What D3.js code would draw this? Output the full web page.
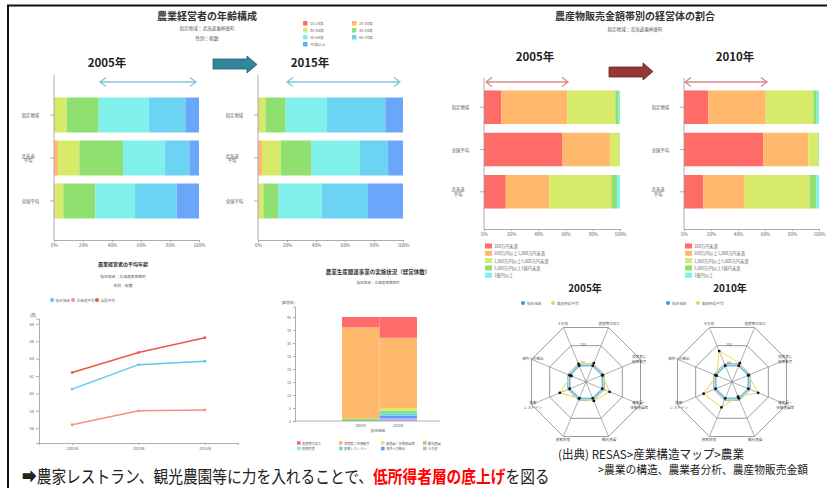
<!DOCTYPE html>
<html><head><meta charset="utf-8">
<script src="https://cdn.jsdelivr.net/npm/d3@7"></script>
<style>body{margin:0;background:#fff}svg{display:block}text{font-family:"Noto Sans CJK JP","Noto Sans","DejaVu Sans",sans-serif}</style>
</head><body><svg id="c" width="827" height="488"></svg>
<script>
// ---------------- DATA ----------------
const ageGroups = ["15-24歳","25-34歳","35-44歳","45-54歳","55-64歳","65-74歳","75歳以上"];
const ageRegions = ["指定地域","北海道平均","全国平均"];
const age2005 = [[0,0,8.7,22.1,34.5,25.3,9.4],[0.3,2.5,14.7,30.1,28.7,17.0,6.7],[0.2,0.6,5.6,22.1,27.4,28.7,15.4]];
const age2015 = [[0,0.5,4.6,14.0,28.3,40.4,12.2],[0.2,3.0,12.4,21.4,33.3,19.4,10.3],[0.1,0.5,3.1,10.3,29.9,32.0,24.1]];
const ageColors = ["#ff6b6b","#ffb86c","#d8ea6a","#8fe070","#80f0ea","#6cd3f2","#6aa6fa"];

const salesBands = ["100万円未満","100万円以上1,000万円未満","1,000万円以上5,000万円未満","5,000万円以上1億円未満","1億円以上"];
const salesRegions = ["指定地域","全国平均","北海道平均"];
const sales2005 = [[12.8,48.6,35.2,2.4,1.0],[57.7,34.9,7.2,0.1,0.1],[16.0,31.9,45.7,4.4,2.0]];
const sales2010 = [[18.0,42.5,35.3,2.5,1.7],[58.8,33.3,7.2,0.5,0.2],[14.3,30.6,48.2,4.9,2.0]];
const salesColors = ["#ff6b66","#ffb86c","#d8ea6a","#8fe070","#80f0ea"];

const pctTicks = [0,20,40,60,80,100];

const avgYears = ["2005年","2010年","2015年"];
const avgSeries = ["指定地域","北海道平均","全国平均"];
const avgLocal = [60.5,63.3,63.7];
const avgHokkaido = [56.4,58.0,58.1];
const avgNation = [62.4,64.7,66.4];
const avgColors = ["#5cc6f2","#ff8a84","#ee5548"];
const avgTicks = [56,58,60,62,64,66,68];

const bizTypes = ["農産物の加工","消費者に直接販売","貸農園・体験農園等","観光農園","農家民宿","農家レストラン","海外への輸出","その他"];
const bizYears = ["2005年","2010年"];
const biz2005 = [4,35,0,1,0,0,0,0];
const biz2010 = [8,27,1,1,0,1,1,1];
const bizColors = ["#ff6b6b","#ffb86c","#d8ea6a","#8fe070","#80f0ea","#6cd3f2","#5b9cf5","#c8aaf2"];
const bizTicks = [0,5,10,15,20,25,30,35,40];

const radarAxes = bizTypes;
const radarLabels = [["農産物の加工"],["消費者に","直接販売"],["貸農園・","体験農園等"],["観光農園"],["農家民宿"],["農家","レストラン"],["海外への輸出"],["その他"]];
const radarSeries = ["指定地域","都道府県平均"];
const radarLocal2005 = [45,45,45,45,45,45,45,45];
const radarPref2005 = [52,45,65,52,45,72,40,50];
const radarLocal2010 = [45,45,45,45,45,45,45,45];
const radarPref2010 = [52,45,72,40,70,78,42,85];
const radarTicks = [50,100,150];
const radarColors = ["#6cc3ea","#eedd66"];

const messageParts = ["➡農家レストラン、観光農園等に力を入れることで、","低所得者層の底上げ","を図る"];

// ---------------- DRAW ----------------
const svg = d3.select("#c");
svg.append("rect").attr("width",827).attr("height",488).attr("fill","#fff");
svg.append("path").attr("d","M8,488V5.5H827").attr("fill","none").attr("stroke","#111").attr("stroke-width",2);

function txt(x,y,s,size,o={}){
  return svg.append("text").attr("x",x).attr("y",y).text(s).attr("font-size",size)
    .attr("text-anchor",o.anchor||"middle").attr("font-weight",o.bold?"bold":null)
    .attr("fill",o.fill||"#444").attr("dominant-baseline","central");
}
function styleAxis(g,fs){
  g.selectAll("path,line").attr("stroke","#999").attr("stroke-width",0.8);
  g.selectAll("text").attr("font-size",fs).attr("fill","#666").attr("font-family",null);
}
function splitLabel(s){ return s.length===5 ? [s.slice(0,3),s.slice(3)] : [s]; }

function hbar(data,cats,colors,x0,x1,yTop,yBot,r0,r1,pad){
  const x=d3.scaleLinear().domain([0,100]).range([x0,x1]);
  const y=d3.scaleBand().domain(cats).range([r0,r1]).paddingInner(pad).paddingOuter(pad/2);
  const rows=cats.map((c,i)=>{const o={cat:c};data[i].forEach((v,j)=>o["k"+j]=v);return o;});
  const series=d3.stack().keys(data[0].map((_,j)=>"k"+j))(rows);
  series.forEach((s,j)=>{
    svg.append("g").selectAll("rect").data(s).join("rect")
      .attr("x",d=>x(d[0])).attr("width",d=>Math.max(0,x(d[1])-x(d[0])))
      .attr("y",d=>y(d.data.cat)).attr("height",y.bandwidth()).attr("fill",colors[j]);
  });
  const ax=svg.append("g").attr("transform",`translate(0,${yBot})`)
    .call(d3.axisBottom(x).tickValues(pctTicks).tickFormat(d=>d+"%").tickSize(2).tickPadding(2));
  styleAxis(ax,4.6);
  svg.append("line").attr("x1",x0).attr("x2",x0).attr("y1",yTop).attr("y2",yBot).attr("stroke","#999").attr("stroke-width",0.8);
  cats.forEach(c=>{
    const cy=y(c)+y.bandwidth()/2;
    svg.append("line").attr("x1",x0-4).attr("x2",x0).attr("y1",cy).attr("y2",cy).attr("stroke","#999").attr("stroke-width",0.8);
    const lines=splitLabel(c);
    lines.forEach((l,k)=>txt(x0-16,cy+(k-(lines.length-1)/2)*4.6,l,4.3,{fill:"#555",anchor:lines.length>1?"middle":"end"}).attr("x",lines.length>1?x0-26:x0-15));
  });
}
function dblArrow(x1,x2,y,color){
  svg.append("path").attr("d",`M${x1},${y}H${x2}M${x1+6},${y-4.5}L${x1},${y}L${x1+6},${y+4.5}M${x2-6},${y-4.5}L${x2},${y}L${x2-6},${y+4.5}`)
    .attr("fill","none").attr("stroke",color).attr("stroke-width",1.3);
}

// ---- Top-left: age composition ----
txt(207,15,"農業経営者の年齢構成",10,{bold:true,fill:"#333"});
txt(207,28,"指定地域：北海道東神楽町",4.6,{fill:"#555"});
txt(207,38,"性別：総数",4.6,{fill:"#555"});
ageGroups.forEach((a,i)=>{
  const lx=303+(i%2)*49, ly=23+Math.floor(i/2)*7;
  svg.append("rect").attr("x",lx).attr("y",ly-2).attr("width",4.5).attr("height",4.5).attr("fill",ageColors[i]);
  txt(lx+7,ly+0.2,a,3.8,{anchor:"start",fill:"#666"});
});
txt(107,62,"2005年",11.5,{bold:true,fill:"#222"});
txt(310,62,"2015年",11.5,{bold:true,fill:"#222"});
svg.append("path").attr("d","M213,59H247V56L257,64.5L247,73V69H213Z").attr("fill","#31859c").attr("stroke","#1f5f70").attr("stroke-width",0.8);
dblArrow(100,196,82,"#86c5dc");
dblArrow(287,400,82,"#86c5dc");
hbar(age2005,ageRegions,ageColors,54,199,75,240,93.5,222.5,0.186);
hbar(age2015,ageRegions,ageColors,258,403,75,240,93.5,222.5,0.186);

// ---- Top-right: sales bands ----
txt(635,15,"農産物販売金額帯別の経営体の割合",10,{bold:true,fill:"#333"});
txt(635,29,"指定地域：北海道東神楽町",4.6,{fill:"#555"});
txt(535,56,"2005年",11.5,{bold:true,fill:"#222"});
txt(735,56,"2010年",11.5,{bold:true,fill:"#222"});
svg.append("path").attr("d","M609,67H643V63L653,71.5L643,80V77H609Z").attr("fill","#953735").attr("stroke","#6b2220").attr("stroke-width",0.8);
dblArrow(486,568,82,"#d98a8a");
dblArrow(685,767,82,"#d98a8a");
hbar(sales2005,salesRegions,salesColors,484,620,78,229,86.1,212.9,0.207);
hbar(sales2010,salesRegions,salesColors,684,819,78,229,86.1,212.9,0.207);
[485,685].forEach(lx=>{
  salesBands.forEach((b,i)=>{
    const ly=246+i*7.3;
    svg.append("rect").attr("x",lx).attr("y",ly-2.5).attr("width",7).attr("height",5).attr("fill",salesColors[i]);
    txt(lx+9,ly,b,4.2,{anchor:"start",fill:"#666"});
  });
});

// ---- Bottom-left: average age line chart ----
txt(123,263,"農業経営者の平均年齢",5,{bold:true,fill:"#333"});
txt(123,276,"指定地域：北海道東神楽町",3.8,{fill:"#555"});
txt(123,285,"性別：総数",3.8,{fill:"#555"});
[52,73,97].forEach((lx,i)=>{
  svg.append("circle").attr("cx",lx).attr("cy",300).attr("r",2).attr("fill",avgColors[i]);
  txt(lx+3.5,300,avgSeries[i],3.6,{anchor:"start",fill:"#666"});
});
const lx=d3.scalePoint().domain(avgYears).range([39,238]).padding(0.5);
const ly=d3.scaleLinear().domain([54.3,68.6]).range([443,318.6]);
const gx=svg.append("g").attr("transform","translate(0,443)").call(d3.axisBottom(lx).tickSize(2).tickPadding(2));
styleAxis(gx,3.8);
const gy=svg.append("g").attr("transform","translate(39,0)").call(d3.axisLeft(ly).tickValues(avgTicks).tickSize(3).tickPadding(2));
styleAxis(gy,4);
txt(33,315,"(歳)",4,{fill:"#555"});
[avgLocal,avgHokkaido,avgNation].forEach((s,i)=>{
  svg.append("path").attr("d",d3.line().x((d,j)=>lx(avgYears[j])).y(d=>ly(d))(s))
    .attr("fill","none").attr("stroke",avgColors[i]).attr("stroke-width",1.4);
  svg.append("g").selectAll("circle").data(s).join("circle")
    .attr("cx",(d,j)=>lx(avgYears[j])).attr("cy",d=>ly(d)).attr("r",1.4).attr("fill",avgColors[i]);
});

// ---- Bottom-middle: stacked column ----
txt(378,272,"農業生産関連事業の実施状況（経営体数）",5.5,{bold:true,fill:"#333"});
txt(378,282,"指定地域：北海道東神楽町",3.6,{fill:"#555"});
txt(288,302,"(経営体)",3.6,{fill:"#555"});
const bx=d3.scaleBand().domain(bizYears).range([342,417]).padding(0);
const by=d3.scaleLinear().domain([0,44]).range([421,306.6]);
const bizRows=bizYears.map((yr,i)=>{const o={yr};(i?biz2010:biz2005).forEach((v,j)=>o["b"+j]=v);return o;});
const bizStack=d3.stack().keys(bizTypes.map((_,j)=>"b"+j).reverse())(bizRows);
bizStack.forEach(s=>{
  const j=+s.key.slice(1);
  svg.append("g").selectAll("rect").data(s).join("rect")
    .attr("x",d=>bx(d.data.yr)).attr("width",bx.bandwidth())
    .attr("y",d=>by(d[1])).attr("height",d=>by(d[0])-by(d[1])).attr("fill",bizColors[j]);
});
const bgy=svg.append("g").attr("transform","translate(295,0)").call(d3.axisLeft(by).tickValues(bizTicks).tickSize(2).tickPadding(2));
styleAxis(bgy,3.6);
svg.append("line").attr("x1",295).attr("x2",440).attr("y1",421).attr("y2",421).attr("stroke","#999").attr("stroke-width",0.8);
bizYears.forEach(yr=>txt(bx(yr)+bx.bandwidth()/2,425,yr,3.4,{fill:"#666"}));
txt(378,430,"指定地域",3.6,{fill:"#555"});
bizTypes.forEach((b,i)=>{
  const x0=297+(i%4)*42, y0=443+Math.floor(i/4)*5.5;
  svg.append("rect").attr("x",x0).attr("y",y0-1.8).attr("width",3.6).attr("height",3.6).attr("fill",bizColors[i]);
  txt(x0+5,y0,b,3.2,{anchor:"start",fill:"#666"});
});

// ---- Bottom-right: radar charts ----
txt(585,287,"2005年",10,{bold:true,fill:"#222"});
txt(730,287,"2010年",10,{bold:true,fill:"#222"});
[[523,553],[668,698]].forEach(p=>{
  p.forEach((px,i)=>{
    svg.append("circle").attr("cx",px).attr("cy",303).attr("r",2).attr("fill",i?"#e8d44d":"#2f9fd8");
    txt(px+4,303,radarSeries[i],3.6,{anchor:"start",fill:"#666"});
  });
});
function radar(cx0,cy0,local,pref){
  const r=d3.scaleLinear().domain([0,150]).range([0,59]);
  const ang=i=>(22.5+45*i)*Math.PI/180;
  const pt=(v,i)=>[cx0+r(v)*Math.sin(ang(i)),cy0-r(v)*Math.cos(ang(i))];
  const line=d3.line().curve(d3.curveLinearClosed);
  radarTicks.forEach(t=>svg.append("path").attr("d",line(radarAxes.map((_,i)=>pt(t,i))))
    .attr("fill","none").attr("stroke","#9a9a9a").attr("stroke-width",1));
  radarAxes.forEach((a,i)=>{
    const [ex,ey]=pt(150,i);
    svg.append("line").attr("x1",cx0).attr("y1",cy0).attr("x2",ex).attr("y2",ey).attr("stroke","#9a9a9a").attr("stroke-width",0.8);
    const [lx2,ly2]=pt(154,i);
    const lines=radarLabels[i];
    const s=Math.sin(ang(i)), c=Math.cos(ang(i));
    const dy=c>0.5?-3:(c<-0.5?2:0);
    const dx=Math.abs(s)>0.5?-s*3:0;
    lines.forEach((l,k)=>txt(lx2+dx,ly2+dy+(k-(lines.length-1)/2)*4.4,l,3.6,{fill:"#555"}));
  });
  radarTicks.slice(0,2).forEach(t=>txt(cx0-3,cy0-r(t)*0.924-1,String(t),3.6,{fill:"#666"}));
  txt(cx0,cy0,"0",3,{fill:"#888"});
  svg.append("path").attr("d",line(pref.map((v,i)=>pt(v,i)))).attr("fill","none").attr("stroke",radarColors[1]).attr("stroke-width",1.1);
  svg.append("path").attr("d",line(local.map((v,i)=>pt(v,i)))).attr("fill","none").attr("stroke",radarColors[0]).attr("stroke-width",1.8);
  [local,pref].forEach(s=>svg.append("g").selectAll("circle").data(s).join("circle")
    .attr("cx",(v,i)=>pt(v,i)[0]).attr("cy",(v,i)=>pt(v,i)[1]).attr("r",1.4).attr("fill","#111"));
}
radar(586,382,radarLocal2005,radarPref2005);
radar(732,382,radarLocal2010,radarPref2010);

// ---- Source & message ----
function fitText(x,y,s,size,len,o={}){
  return txt(x,y,s,size,Object.assign({anchor:"start",fill:"#222"},o)).attr("textLength",len).attr("lengthAdjust","spacingAndGlyphs");
}
fitText(558,453,"(出典) RESAS>産業構造マップ>農業",12,186);
fitText(598,469,">農業の構造、農業者分析、農産物販売金額",11.5,210);
const msgG=svg.append("g");
const msg=msgG.append("text").attr("x",0).attr("y",0).attr("font-size",17.5).attr("fill","#222").attr("dominant-baseline","central");
messageParts.forEach((p,i)=>msg.append("tspan").text(p).attr("fill",i===1?"#ff0000":"#222").attr("font-weight",i===1?"bold":null));
const natW=msg.node().getComputedTextLength();
msgG.attr("transform",`translate(22,475) scale(${528/natW},1)`);
</script></body></html>
